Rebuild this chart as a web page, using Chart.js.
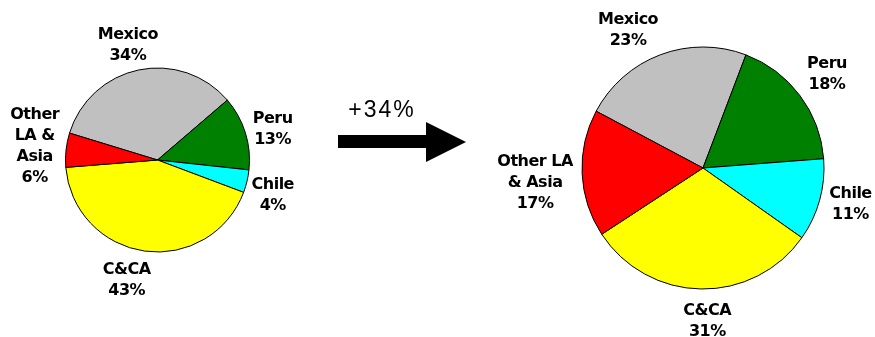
<!DOCTYPE html>
<html>
<head>
<meta charset="utf-8">
<script src="https://cdn.jsdelivr.net/npm/chart.js@4"></script>
<style>
  body { margin: 0; background: #fff; }
  #wrap { position: relative; width: 875px; height: 337px; }
  #wrap canvas { position: absolute; left: 0; top: 0; }
</style>
</head>
<body>
<div id="wrap">
  <canvas id="before" width="875" height="337"></canvas>
  <canvas id="after" width="875" height="337"></canvas>
</div>
<script>
// data
const regions = ['Mexico', 'Peru', 'Chile', 'C&CA', 'Other LA & Asia'];
const shareBefore = [34, 13, 4, 43, 6];
const shareAfter = [23, 18, 11, 31, 17];
const growthText = '+34%';

// how each label is broken into lines
const namesBefore = [['Mexico'], ['Peru'], ['Chile'], ['C&CA'], ['Other', 'LA &', 'Asia']];
const namesAfter = [['Mexico'], ['Peru'], ['Chile'], ['C&CA'], ['Other LA', '& Asia']];

const sliceColors = ['#c0c0c0', '#008000', '#00ffff', '#ffff00', '#ff0000'];

const labelFont = 'bold 16px "DejaVu Sans"';
const lineH = 21;
const capHalf = 5.8; // half the cap height, to centre lines on their slot

// draws "name / xx%" outside each slice, along the slice's middle angle
const outsideLabels = {
    id: 'outsideLabels',
    afterDatasetsDraw(chart, args, opts) {
        const ctx = chart.ctx;
        const meta = chart.getDatasetMeta(0);
        const values = chart.data.datasets[0].data;
        ctx.save();
        ctx.font = labelFont;
        ctx.letterSpacing = '-0.5px';
        ctx.fillStyle = '#000';
        ctx.textAlign = 'center';
        ctx.textBaseline = 'alphabetic';
        meta.data.forEach((arc, i) => {
            const p = arc.getProps(['x', 'y', 'startAngle', 'endAngle', 'outerRadius'], true);
            const mid = (p.startAngle + p.endAngle) / 2;
            const lines = opts.names[i].concat([values[i] + '%']);
            const h = lines.length * lineH;
            const nudge = opts.nudge[i];
            const cx = p.x + Math.cos(mid) * p.outerRadius * opts.dist + nudge[0];
            const cy = p.y + Math.sin(mid) * p.outerRadius * opts.dist + nudge[1];
            lines.forEach((l, k) => {
                ctx.fillText(l, cx, cy - h / 2 + lineH * (k + 0.5) + capHalf);
            });
        });
        ctx.restore();
    }
};

// the arrow between the two pies
const growthArrow = {
    id: 'growthArrow',
    afterDraw(chart) {
        const ctx = chart.ctx;
        ctx.save();
        ctx.fillStyle = '#000';
        ctx.beginPath();
        ctx.moveTo(338, 135);
        ctx.lineTo(426, 135);
        ctx.lineTo(426, 122);
        ctx.lineTo(466, 142);
        ctx.lineTo(426, 162);
        ctx.lineTo(426, 148);
        ctx.lineTo(338, 148);
        ctx.closePath();
        ctx.fill();
        ctx.font = '23px "Liberation Sans", Arial';
        ctx.letterSpacing = '2px';
        ctx.textAlign = 'center';
        ctx.textBaseline = 'alphabetic';
        ctx.fillText(growthText, 382, 117);
        ctx.restore();
    }
};

function makePie(id, values, names, rotation, radius, padding, labelOpts, extra) {
    return new Chart(document.getElementById(id), {
        type: 'pie',
        data: {
            labels: regions,
            datasets: [{
                data: values,
                backgroundColor: sliceColors,
                borderColor: '#000',
                borderWidth: 1
            }]
        },
        options: {
            responsive: false,
            animation: false,
            rotation: rotation,
            radius: radius,
            layout: { padding: padding },
            plugins: {
                legend: { display: false },
                tooltip: { enabled: false },
                outsideLabels: Object.assign({ names: names }, labelOpts)
            }
        },
        plugins: [outsideLabels].concat(extra)
    });
}

makePie('before', shareBefore, namesBefore, 287, 92,
    { left: 0, right: 560, top: 0, bottom: 17 },
    { dist: 1.31, nudge: [[-5, 2], [0, 3], [-2, 6], [-14, -1], [-3, -2]] },
    [growthArrow]);
makePie('after', shareAfter, namesAfter, 298, 121,
    { left: 531, right: 0, top: 0, bottom: 1 },
    { dist: 1.29, nudge: [[-20, 7], [-1, -2], [-3, -7], [7, -4], [-12, 6]] },
    []);
</script>
</body>
</html>
